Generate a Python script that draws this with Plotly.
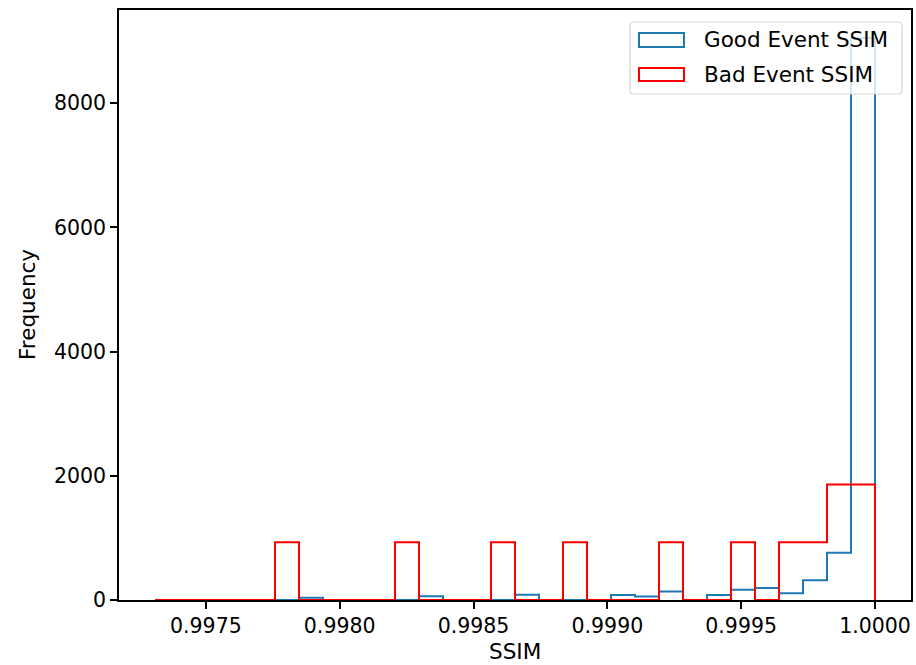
import numpy as np
import plotly.graph_objects as go

# ---- data ----
bin_lo = 0.997310
bin_hi = 1.000000
n_bins = 30
good_counts = [0, 0, 0, 0, 0, 0, 35, 0, 0, 0,
               0, 60, 0, 0, 0, 85, 0, 0, 0, 80,
               55, 135, 0, 80, 165, 195, 110, 320, 760, 9050]
bad_counts = [0, 0, 0, 0, 0, 930, 0, 0, 0, 0,
              930, 0, 0, 0, 930, 0, 0, 930, 0, 0,
              0, 930, 0, 0, 930, 0, 930, 930, 1860, 1860]
series_names = ["Good Event SSIM", "Bad Event SSIM"]
series_colors = ["#1f77b4", "#ff0000"]
x_ticks = [0.9975, 0.9980, 0.9985, 0.9990, 0.9995, 1.0000]
x_tick_labels = ["0.9975", "0.9980", "0.9985", "0.9990", "0.9995", "1.0000"]
y_ticks = [0, 2000, 4000, 6000, 8000]
y_tick_labels = ["0", "2000", "4000", "6000", "8000"]

edges = np.linspace(bin_lo, bin_hi, n_bins + 1)


def step_outline(counts):
    xs = [edges[0]]
    ys = [0]
    for i, c in enumerate(counts):
        xs += [edges[i], edges[i + 1]]
        ys += [c, c]
    xs.append(edges[-1])
    ys.append(0)
    return xs, ys


# ---- layout geometry (pixels) ----
W, H = 916, 665
L, R, T, B = 119, 911, 10, 600
pw, ph = R - L, B - T


def px(x):
    return (x - L) / pw


def py(y):
    return (B - y) / ph


fig = go.Figure()
for counts, name, color in zip([good_counts, bad_counts], series_names, series_colors):
    xs, ys = step_outline(counts)
    fig.add_trace(go.Scatter(x=xs, y=ys, mode="lines", name=name,
                             line=dict(color=color, width=2),
                             showlegend=False, hoverinfo="skip"))

span = bin_hi - bin_lo
ymax = max(max(good_counts), max(bad_counts)) * 1.05

tick_font = dict(family="DejaVu Sans", size=20.5, color="black")
font = dict(family="DejaVu Sans", size=21.5, color="black")

fig.update_layout(
    width=W, height=H,
    margin=dict(l=L, r=W - R, t=T, b=H - B, pad=0, autoexpand=False),
    paper_bgcolor="white", plot_bgcolor="white",
    font=font,
    xaxis=dict(range=[bin_lo - 0.05 * span, bin_hi + 0.05 * span],
               tickvals=x_ticks, ticktext=x_tick_labels,
               showgrid=False, zeroline=False, automargin=False,
               showline=True, linecolor="black", linewidth=1.6, mirror=True,
               ticks="outside", ticklen=7, tickwidth=1.6, tickcolor="black",
               tickfont=tick_font),
    yaxis=dict(range=[0, ymax],
               tickvals=y_ticks, ticktext=y_tick_labels,
               showgrid=False, zeroline=False, automargin=False,
               showline=True, linecolor="black", linewidth=1.6, mirror=True,
               ticks="outside", ticklen=7, tickwidth=1.6, tickcolor="black",
               tickfont=tick_font),
    showlegend=False,
)

# axis titles
fig.add_annotation(text="SSIM", x=px((L + R) / 2), y=py(651), xref="paper", yref="paper",
                   showarrow=False, font=font, xanchor="center", yanchor="middle")
fig.add_annotation(text="Frequency", x=px(27), y=py((T + B) / 2), xref="paper", yref="paper",
                   showarrow=False, font=font, textangle=-90, xanchor="center", yanchor="middle")

# legend (manual, matplotlib style)
bx0, bx1, by0, by1 = 630, 902, 22, 94
r = 4
path = (f"M {px(bx0 + r)} {py(by0)} L {px(bx1 - r)} {py(by0)} "
        f"Q {px(bx1)} {py(by0)} {px(bx1)} {py(by0 + r)} "
        f"L {px(bx1)} {py(by1 - r)} Q {px(bx1)} {py(by1)} {px(bx1 - r)} {py(by1)} "
        f"L {px(bx0 + r)} {py(by1)} Q {px(bx0)} {py(by1)} {px(bx0)} {py(by1 - r)} "
        f"L {px(bx0)} {py(by0 + r)} Q {px(bx0)} {py(by0)} {px(bx0 + r)} {py(by0)} Z")
fig.add_shape(type="path", path=path, xref="paper", yref="paper",
              fillcolor="rgba(255,255,255,0.8)", line=dict(color="#d5d5d5", width=1.2))
rows = [(33, 47, 40), (68, 81, 74.5)]
for (ry0, ry1, ty), name, color in zip(rows, series_names, series_colors):
    fig.add_shape(type="rect", xref="paper", yref="paper",
                  x0=px(639), x1=px(684), y0=py(ry1), y1=py(ry0),
                  fillcolor="white", line=dict(color=color, width=2))
    fig.add_annotation(text=name, x=px(702), y=py(ty), xref="paper", yref="paper",
                       showarrow=False, font=font, xanchor="left", yanchor="middle")

fig.write_html("out.html",
               config={"displayModeBar": False},
               post_script="document.body.style.margin='0';document.body.style.padding='0';")
